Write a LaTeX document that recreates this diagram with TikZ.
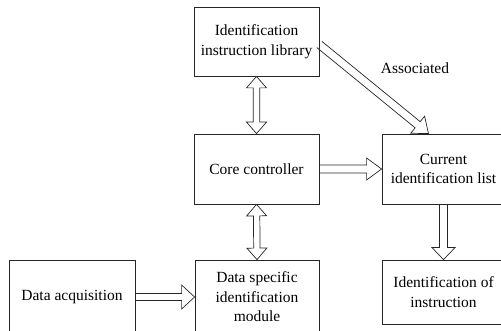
\documentclass[tikz,border=0pt]{standalone}
\usepackage{fontspec}
\setmainfont{Liberation Serif}
\usetikzlibrary{calc}
\tikzset{
  box/.style={draw=black!85, line width=0.8pt, inner sep=0pt, align=center,
    font=\fontsize{15.5}{19.5}\selectfont},
  arr/.style={draw=black!85, line width=0.7pt, line join=miter},
  lbl/.style={inner sep=0pt, font=\fontsize{15.5}{19.5}\selectfont}
}
% single hollow arrow: #1 start, #2 tip, #3 shaft half width, #4 head half width, #5 head length
\newcommand\hollowarrow[5]{%
  \path (#1) coordinate (hA) (#2) coordinate (hB);
  \path ($(hB)!#5!(hA)$) coordinate (hH);
  \draw[arr] ($(hA)!#3!90:(hB)$) -- ($(hH)!#3!90:(hB)$) -- ($(hH)!#4!90:(hB)$)
    -- (hB) -- ($(hH)!#4!-90:(hB)$) -- ($(hH)!#3!-90:(hB)$) -- ($(hA)!#3!-90:(hB)$);
}
% double hollow arrow
\newcommand\hollowdarrow[5]{%
  \path (#1) coordinate (hA) (#2) coordinate (hB);
  \path ($(hB)!#5!(hA)$) coordinate (hH);
  \path ($(hA)!#5!(hB)$) coordinate (hG);
  \draw[arr] (hA) -- ($(hG)!#4!90:(hB)$) -- ($(hG)!#3!90:(hB)$) -- ($(hH)!#3!90:(hB)$)
    -- ($(hH)!#4!90:(hB)$) -- (hB) -- ($(hH)!#4!-90:(hB)$) -- ($(hH)!#3!-90:(hB)$)
    -- ($(hG)!#3!-90:(hB)$) -- ($(hG)!#4!-90:(hB)$) -- cycle;
}
\begin{document}
\begin{tikzpicture}[x=1pt,y=-1pt]
\useasboundingbox (0,0) rectangle (501,331);
\clip (0,0) rectangle (501,331);
\node[box, minimum width=125pt, minimum height=69pt] (lib) at (256.5,41.5)
  {Identification\\instruction library};
\node[box, minimum width=125pt, minimum height=70pt] (core) at (256.5,169)
  {Core controller};
\node[box, minimum width=123pt, minimum height=70pt] (cur) at (443.5,169)
  {Current\\identification list};
\node[box, minimum width=126pt, minimum height=74pt] (acq) at (72,297)
  {Data acquisition};
\node[box, minimum width=124pt, minimum height=74pt] (mod) at (257,297)
  {Data specific\\identification\\module};
\node[box, minimum width=123pt, minimum height=64pt] (ident) at (443.5,292)
  {Identification of\\instruction};
\node[lbl] (assoc) at (415,68) {Associated};

\coordinate (dA) at ($(lib.east)+(0,3)$);
\coordinate (dB) at ($(cur.north)+(-15,0)$);

\hollowdarrow{lib.south}{core.north}{3.2pt}{10pt}{11.5pt}
\hollowdarrow{core.south}{mod.north}{3.2pt}{10pt}{11.5pt}
\hollowarrow{core.east}{cur.west}{4pt}{11pt}{15pt}
\hollowarrow{acq.east}{mod.west}{3.5pt}{12pt}{13pt}
\hollowarrow{cur.south}{ident.north}{4pt}{11.5pt}{12pt}
\hollowarrow{dA}{dB}{4pt}{11pt}{14pt}
\end{tikzpicture}
\end{document}
